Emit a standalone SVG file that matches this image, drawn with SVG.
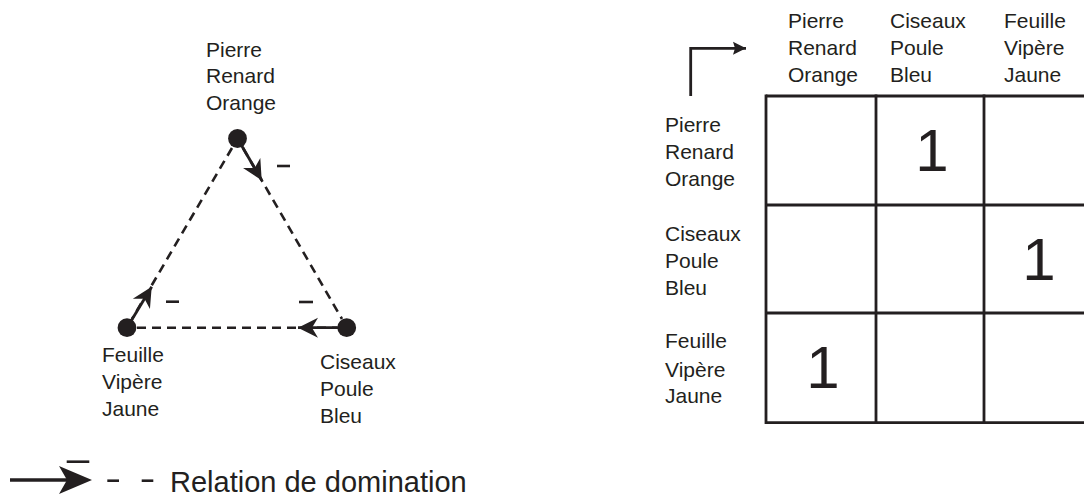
<svg xmlns="http://www.w3.org/2000/svg" width="1084" height="496" viewBox="0 0 1084 496">
<style>
text{font-family:"Liberation Sans",Arial,sans-serif;fill:#231f20}
.lbl{font-size:21px}
.one{font-size:60px;text-anchor:middle}
.leg{font-size:29px}
.dash{stroke:#231f20;stroke-width:2.6;stroke-dasharray:9 6;fill:none}
.sol{stroke:#231f20;stroke-width:2.8;fill:none}
.mk{stroke:#231f20;stroke-width:2.6}
.grid{stroke:#231f20;stroke-width:2.8;fill:none}
.dot{fill:#231f20}
</style>
<defs>
<marker id="ah" markerUnits="userSpaceOnUse" markerWidth="28" markerHeight="28" viewBox="-24 -14 28 28" refX="0" refY="0" orient="auto">
<path d="M0,0 L-20,-10 L-14,0 L-20,10 Z" fill="#231f20"/>
</marker>
<marker id="ah2" markerUnits="userSpaceOnUse" markerWidth="18" markerHeight="18" viewBox="-15 -9 18 18" refX="0" refY="0" orient="auto">
<path d="M0,0 L-13,-6.5 L-11,0 L-13,6.5 Z" fill="#231f20"/>
</marker>
</defs>

<g id="connectors">
<line class="dash" x1="232" y1="148" x2="132" y2="319"/>
<line class="dash" x1="243" y1="148" x2="342" y2="319"/>
<line class="dash" x1="137" y1="327.7" x2="337" y2="327.7"/>
<line class="sol" x1="237.5" y1="138.5" x2="261.7" y2="180.2" marker-end="url(#ah)"/>
<line class="sol" x1="127" y1="327.7" x2="151.7" y2="286.7" marker-end="url(#ah)"/>
<line class="sol" x1="346.7" y1="327.7" x2="298" y2="327.7" marker-end="url(#ah)"/>
<line class="mk" x1="277" y1="166" x2="290" y2="166"/>
<line class="mk" x1="166" y1="301.7" x2="179" y2="301.7"/>
<line class="mk" x1="299" y1="302" x2="313" y2="302"/>
</g>

<g id="node-pierre">
<circle class="dot" cx="237.5" cy="138.5" r="9.4"/>
<text class="lbl" x="206" y="56.7">Pierre</text>
<text class="lbl" x="206" y="83.3">Renard</text>
<text class="lbl" x="206" y="109.5">Orange</text>
</g>
<g id="node-feuille">
<circle class="dot" cx="127" cy="327.7" r="9.4"/>
<text class="lbl" x="102" y="362.3">Feuille</text>
<text class="lbl" x="102" y="389">Vipère</text>
<text class="lbl" x="102" y="416">Jaune</text>
</g>
<g id="node-ciseaux">
<circle class="dot" cx="346.7" cy="327.7" r="9.4"/>
<text class="lbl" x="320" y="369">Ciseaux</text>
<text class="lbl" x="320" y="396">Poule</text>
<text class="lbl" x="320" y="423">Bleu</text>
</g>

<g id="legend">
<line x1="10" y1="480" x2="70" y2="480" stroke="#231f20" stroke-width="3.6"/>
<path d="M92,480 L59,466 L67,480 L59,494 Z" fill="#231f20"/>
<line class="mk" x1="66.7" y1="461.7" x2="89.3" y2="461.7"/>
<line class="mk" x1="107.3" y1="480.7" x2="119" y2="480.7"/>
<line class="mk" x1="141.7" y1="480.7" x2="153.3" y2="480.7"/>
<text class="leg" x="170" y="491.7">Relation de domination</text>
</g>

<g id="matrix">
<path class="sol" d="M690.7,96 V48.3 H746" marker-end="url(#ah2)"/>
<line class="grid" x1="766" y1="96" x2="1084" y2="96"/>
<line class="grid" x1="766" y1="205" x2="1084" y2="205"/>
<line class="grid" x1="766" y1="313" x2="1084" y2="313"/>
<line class="grid" x1="766" y1="422.7" x2="1084" y2="422.7"/>
<line class="grid" x1="766" y1="94.6" x2="766" y2="424.1"/>
<line class="grid" x1="876" y1="94.6" x2="876" y2="424.1"/>
<line class="grid" x1="984" y1="94.6" x2="984" y2="424.1"/>
<text class="lbl" x="788" y="28.3">Pierre</text>
<text class="lbl" x="788" y="55">Renard</text>
<text class="lbl" x="788" y="81.7">Orange</text>
<text class="lbl" x="890" y="28.3">Ciseaux</text>
<text class="lbl" x="890" y="55">Poule</text>
<text class="lbl" x="890" y="81.7">Bleu</text>
<text class="lbl" x="1004" y="28.3">Feuille</text>
<text class="lbl" x="1004" y="55">Vipère</text>
<text class="lbl" x="1004" y="81.7">Jaune</text>
<text class="lbl" x="665" y="131.7">Pierre</text>
<text class="lbl" x="665" y="159.3">Renard</text>
<text class="lbl" x="665" y="186">Orange</text>
<text class="lbl" x="665" y="240.7">Ciseaux</text>
<text class="lbl" x="665" y="268.3">Poule</text>
<text class="lbl" x="665" y="295">Bleu</text>
<text class="lbl" x="665" y="348.3">Feuille</text>
<text class="lbl" x="665" y="376.7">Vipère</text>
<text class="lbl" x="665" y="403.3">Jaune</text>
<text class="one" x="932" y="171">1</text>
<text class="one" x="1039" y="280">1</text>
<text class="one" x="823" y="388">1</text>
</g>
</svg>
